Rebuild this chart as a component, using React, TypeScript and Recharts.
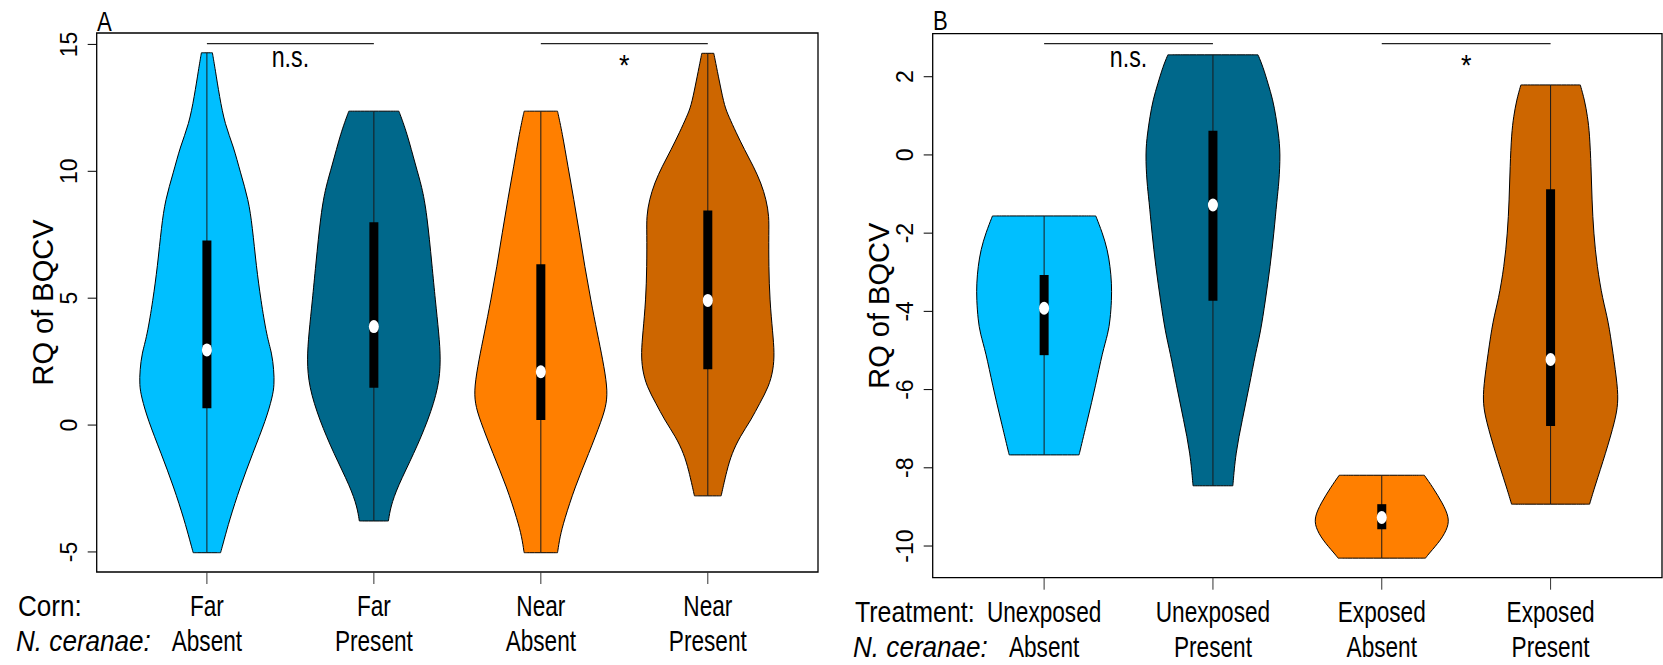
import React from 'react';
import { ComposedChart, Scatter, XAxis, YAxis, ReferenceArea } from 'recharts';

const FONT = '"Liberation Sans", Arial, Helvetica, sans-serif';

const violinColors = ['#00BFFF', '#00688B', '#FF7F00', '#CD6600'];
const positions = [1, 2, 3, 4];
const xDomain: [number, number] = [0.34, 4.66];

// ---------- Panel A ----------
const cornLabels = ['Far', 'Far', 'Near', 'Near'];
const nosemaLabelsA = ['Absent', 'Present', 'Absent', 'Present'];
const yTicksA = [-5, 0, 5, 10, 15];
const yDomainA: [number, number] = [-5.79, 15.45];

// [RQ value, violin half-width in x units]
const farAbsent: [number, number][] = [
  [14.67, 0.033], [14.01, 0.05], [12.96, 0.075], [11.84, 0.108], [10.99, 0.159], [9.94, 0.201],
  [8.88, 0.249], [7.83, 0.272], [6.25, 0.296], [4.93, 0.323], [3.49, 0.359], [2.84, 0.389],
  [2.17, 0.401], [1.58, 0.404], [1.1, 0.392], [0.2, 0.353], [-1.1, 0.275], [-2.45, 0.198],
  [-3.75, 0.135], [-4.55, 0.102], [-5.03, 0.082],
];
const farPresent: [number, number][] = [
  [12.37, 0.15], [11.52, 0.198], [10.2, 0.251], [9.41, 0.287], [8.37, 0.317], [6.25, 0.349],
  [4.93, 0.368], [3.63, 0.389], [2.57, 0.401], [1.51, 0.389], [0.2, 0.326], [-1.12, 0.24],
  [-2.44, 0.141], [-3.23, 0.1], [-3.78, 0.087],
];
const nearAbsent: [number, number][] = [
  [12.37, 0.1], [11.52, 0.128], [10.2, 0.162], [8.88, 0.198], [7.58, 0.231], [6.25, 0.263],
  [4.93, 0.299], [3.63, 0.338], [2.57, 0.371], [1.51, 0.398], [0.86, 0.395], [0.2, 0.365],
  [-1.12, 0.287], [-2.44, 0.204], [-3.75, 0.14], [-4.41, 0.114], [-5.03, 0.1],
];
const nearPresent: [number, number][] = [
  [14.65, 0.036], [14.15, 0.051], [13.36, 0.075], [12.57, 0.1], [12.17, 0.125], [11.52, 0.17],
  [10.86, 0.219], [10.2, 0.273], [9.54, 0.319], [8.88, 0.35], [8.22, 0.367], [7.58, 0.365],
  [6.25, 0.365], [4.93, 0.371], [3.63, 0.389], [2.84, 0.399], [2.17, 0.392], [1.51, 0.365],
  [0.86, 0.311], [0.2, 0.259], [-0.46, 0.192], [-1.12, 0.144], [-1.78, 0.114], [-2.79, 0.08],
];
const q1A = [0.66, 1.47, 0.2, 2.2];
const medianA = [2.96, 3.88, 2.1, 4.91];
const q3A = [7.27, 7.99, 6.34, 8.46];
const sigPairsA = [[1, 2], [3, 4]];
const sigLabelsA = ['n.s.', '*'];
const sigYA = 15.03;

// ---------- Panel B ----------
const treatmentLabels = ['Unexposed', 'Unexposed', 'Exposed', 'Exposed'];
const nosemaLabelsB = ['Absent', 'Present', 'Absent', 'Present'];
const yTicksB = [-10, -8, -6, -4, -2, 0, 2];
const yDomainB: [number, number] = [-10.81, 3.1];

const unexposedAbsent: [number, number][] = [
  [-1.56, 0.306], [-1.99, 0.345], [-2.42, 0.375], [-2.85, 0.391], [-3.28, 0.4], [-3.71, 0.4],
  [-4.22, 0.391], [-4.56, 0.379], [-5.05, 0.345], [-5.9, 0.305], [-6.77, 0.257], [-7.67, 0.207],
];
const unexposedPresent: [number, number][] = [
  [2.56, 0.267], [2.26, 0.296], [1.83, 0.326], [1.41, 0.355], [0.98, 0.373], [0.55, 0.388],
  [0.04, 0.4], [-0.72, 0.391], [-1.15, 0.379], [-2.0, 0.361], [-2.85, 0.339], [-3.71, 0.311],
  [-4.56, 0.281], [-5.05, 0.253], [-5.9, 0.216], [-6.77, 0.174], [-7.63, 0.134], [-8.46, 0.118],
];
const exposedAbsent: [number, number][] = [
  [-8.19, 0.252], [-8.49, 0.301], [-8.91, 0.361], [-9.25, 0.397], [-9.51, 0.394], [-9.85, 0.35],
  [-10.19, 0.28], [-10.31, 0.259],
];
const exposedPresent: [number, number][] = [
  [1.79, 0.176], [1.41, 0.201], [0.98, 0.219], [0.55, 0.231], [-0.3, 0.24], [-1.15, 0.245],
  [-2.0, 0.255], [-2.85, 0.275], [-3.71, 0.309], [-4.22, 0.341], [-5.07, 0.37], [-5.92, 0.397],
  [-6.35, 0.4], [-6.78, 0.383], [-7.63, 0.326], [-8.48, 0.262], [-8.93, 0.231],
];
const q1B = [-5.12, -3.73, -9.57, -6.93];
const medianB = [-3.92, -1.28, -9.27, -5.23];
const q3B = [-3.07, 0.62, -8.93, -0.88];
const sigPairsB = [[1, 2], [3, 4]];
const sigLabelsB = ['n.s.', '*'];
const sigYB = 2.845;

// ---------- helpers ----------
// closed outline; the four corners (flat top / flat bottom ends) are repeated
// three times so the closed B-spline passes exactly through them
const outline = (center: number, profile: [number, number][]) => {
  const n = profile.length;
  const right: { x: number; y: number }[] = [];
  profile.forEach(([v, w], i) => {
    const pt = { x: center + w, y: v };
    const reps = i === 0 || i === n - 1 ? 3 : 1;
    for (let k = 0; k < reps; k++) right.push(pt);
  });
  const left: { x: number; y: number }[] = [];
  [...profile].reverse().forEach(([v, w], i) => {
    const pt = { x: center - w, y: v };
    const reps = i === 0 || i === n - 1 ? 3 : 1;
    for (let k = 0; k < reps; k++) left.push(pt);
  });
  return [...right, ...left];
};

const Empty = () => <g />;

const Narrow = ({ x, y, size, sx, anchor = 'start', italic = false, weight = 'normal', children }: any) => (
  <text
    transform={`translate(${x},${y}) scale(${sx},1)`}
    fontSize={size}
    fontFamily={FONT}
    textAnchor={anchor}
    fontStyle={italic ? 'italic' : 'normal'}
    fontWeight={weight}
    fill="#000"
  >
    {children}
  </text>
);

const makeXTick = (row1: string[], row2: string[]) => (props: any) => {
  const { x, y, payload } = props;
  const i = positions.indexOf(payload.value);
  if (i < 0) return <g />;
  return (
    <g>
      <Narrow x={x} y={y + 32} size={29} sx={0.78} anchor="middle">{row1[i]}</Narrow>
      <Narrow x={x} y={y + 67} size={29} sx={0.78} anchor="middle">{row2[i]}</Narrow>
    </g>
  );
};

const YTick = (props: any) => {
  const { x, y, payload } = props;
  return (
    <text
      transform={`translate(${x - 10.3},${y}) rotate(-90)`}
      fontSize={23}
      fontFamily={FONT}
      textAnchor="middle"
      fill="#000"
    >
      {payload.value}
    </text>
  );
};

type PanelProps = {
  width: number;
  height: number;
  margin: any;
  xAxisHeight: number;
  yDomain: [number, number];
  yTicks: number[];
  profiles: [number, number][][];
  q1: number[];
  med: number[];
  q3: number[];
  row1: string[];
  row2: string[];
  sigPairs: number[][];
  sigLabels: string[];
  sigY: number;
};

const ViolinPanel = (p: PanelProps) => (
  <ComposedChart width={p.width} height={p.height} margin={p.margin}>
    <XAxis
      type="number"
      dataKey="x"
      domain={xDomain}
      ticks={positions}
      allowDataOverflow
      interval={0}
      axisLine={false}
      tickLine={{ stroke: '#333', strokeWidth: 1 }}
      tickSize={12}
      tickMargin={0}
      height={p.xAxisHeight}
      tick={makeXTick(p.row1, p.row2)}
    />
    <YAxis
      type="number"
      dataKey="y"
      domain={p.yDomain}
      ticks={p.yTicks}
      allowDataOverflow
      interval={0}
      axisLine={false}
      tickLine={{ stroke: '#000', strokeWidth: 1 }}
      tickSize={9}
      tickMargin={0}
      width={60}
      tick={YTick}
    />
    <ReferenceArea
      x1={xDomain[0]}
      x2={xDomain[1]}
      y1={p.yDomain[0]}
      y2={p.yDomain[1]}
      fill="none"
      fillOpacity={0}
      stroke="#000"
      strokeWidth={1.3}
      ifOverflow="visible"
    />
    {p.profiles.map((prof, i) => (
      <Scatter
        key={`violin${i}`}
        data={outline(positions[i], prof)}
        line={{ fill: violinColors[i], stroke: '#000', strokeWidth: 1 }}
        lineType="joint"
        lineJointType="basisClosed"
        shape={Empty}
        isAnimationActive={false}
      />
    ))}
    {p.profiles.map((prof, i) => (
      <Scatter
        key={`whisker${i}`}
        data={[
          { x: positions[i], y: prof[0][0] },
          { x: positions[i], y: prof[prof.length - 1][0] },
        ]}
        line={{ stroke: '#1a1a1a', strokeWidth: 1, fill: 'none' }}
        lineType="joint"
        lineJointType="linear"
        shape={Empty}
        isAnimationActive={false}
      />
    ))}
    {positions.map((pos, i) => (
      <Scatter
        key={`box${i}`}
        data={[
          { x: pos, y: p.q1[i] },
          { x: pos, y: p.q3[i] },
        ]}
        line={{ stroke: '#000', strokeWidth: 9, fill: 'none' }}
        lineType="joint"
        lineJointType="linear"
        shape={Empty}
        isAnimationActive={false}
      />
    ))}
    {positions.map((pos, i) => (
      <Scatter
        key={`med${i}`}
        data={[{ x: pos, y: p.med[i] }]}
        shape={(s: any) => <ellipse cx={s.cx} cy={s.cy} rx={5} ry={6.5} fill="#fff" />}
        isAnimationActive={false}
      />
    ))}
    {p.sigPairs.map((pair, i) => (
      <Scatter
        key={`sig${i}`}
        data={[
          { x: pair[0], y: p.sigY },
          { x: pair[1], y: p.sigY },
        ]}
        line={{ stroke: '#222', strokeWidth: 1.3, fill: 'none' }}
        lineType="joint"
        lineJointType="linear"
        shape={Empty}
        isAnimationActive={false}
      />
    ))}
    {p.sigPairs.map((pair, i) => (
      <Scatter
        key={`siglab${i}`}
        data={[{ x: (pair[0] + pair[1]) / 2, y: p.sigY }]}
        shape={(s: any) =>
          p.sigLabels[i] === '*' ? (
            <Narrow x={s.cx} y={s.cy + 31} size={30} sx={0.9} anchor="middle">*</Narrow>
          ) : (
            <Narrow x={s.cx} y={s.cy + 23} size={29} sx={0.8} anchor="middle">{p.sigLabels[i]}</Narrow>
          )
        }
        isAnimationActive={false}
      />
    ))}
  </ComposedChart>
);

export default function App() {
  return (
    <div style={{ position: 'absolute', left: 0, top: 0, width: 1663, height: 665, background: '#fff', overflow: 'hidden' }}>
      <div style={{ position: 'absolute', left: 0, top: 0 }}>
        <ViolinPanel
          width={830}
          height={665}
          margin={{ top: 33, right: 12, bottom: 3, left: 36.7 }}
          xAxisHeight={90}
          yDomain={yDomainA}
          yTicks={yTicksA}
          profiles={[farAbsent, farPresent, nearAbsent, nearPresent]}
          q1={q1A}
          med={medianA}
          q3={q3A}
          row1={cornLabels}
          row2={nosemaLabelsA}
          sigPairs={sigPairsA}
          sigLabels={sigLabelsA}
          sigY={sigYA}
        />
      </div>
      <div style={{ position: 'absolute', left: 830, top: 0 }}>
        <ViolinPanel
          width={833}
          height={665}
          margin={{ top: 33.7, right: 1, bottom: 2.3, left: 42.7 }}
          xAxisHeight={85}
          yDomain={yDomainB}
          yTicks={yTicksB}
          profiles={[unexposedAbsent, unexposedPresent, exposedAbsent, exposedPresent]}
          q1={q1B}
          med={medianB}
          q3={q3B}
          row1={treatmentLabels}
          row2={nosemaLabelsB}
          sigPairs={sigPairsB}
          sigLabels={sigLabelsB}
          sigY={sigYB}
        />
      </div>
      <svg width={1663} height={665} style={{ position: 'absolute', left: 0, top: 0, pointerEvents: 'none' }}>
        <Narrow x={97} y={31} size={27} sx={0.82}>A</Narrow>
        <Narrow x={933} y={30} size={27} sx={0.82}>B</Narrow>
        <Narrow x={18} y={616} size={29} sx={0.9}>Corn:</Narrow>
        <Narrow x={16} y={651} size={29} sx={0.9} italic>N. ceranae:</Narrow>
        <Narrow x={855} y={622} size={29} sx={0.86}>Treatment:</Narrow>
        <Narrow x={853} y={656.5} size={29} sx={0.9} italic>N. ceranae:</Narrow>
        <text transform="translate(53,302.5) rotate(-90)" fontSize={29} fontFamily={FONT} textAnchor="middle" fill="#000">
          RQ of BQCV
        </text>
        <text transform="translate(889,305.7) rotate(-90)" fontSize={29} fontFamily={FONT} textAnchor="middle" fill="#000">
          RQ of BQCV
        </text>
      </svg>
    </div>
  );
}
